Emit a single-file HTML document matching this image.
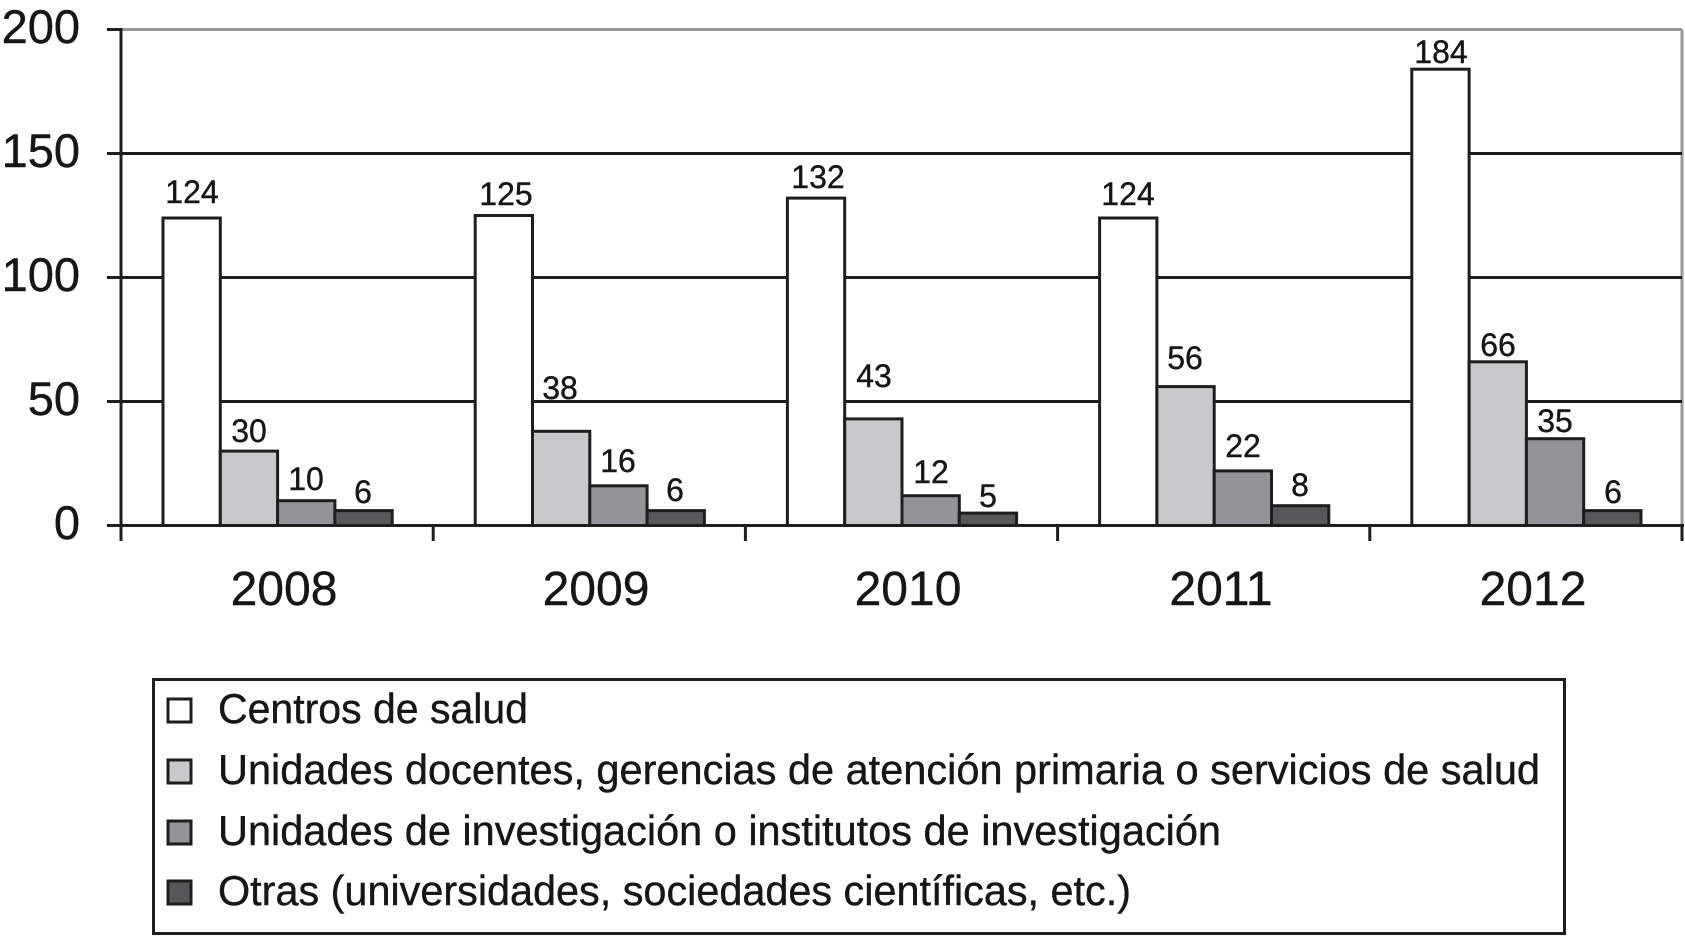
<!DOCTYPE html>
<html><head><meta charset="utf-8"><style>
html,body{margin:0;padding:0;background:#fff;}
svg{display:block;}
text{font-family:"Liberation Sans",Arial,sans-serif;fill:#161616;stroke:#161616;stroke-width:0.4px;}
</style></head><body>
<svg width="1685" height="936" viewBox="0 0 1685 936" xmlns="http://www.w3.org/2000/svg">
<rect x="0" y="0" width="1685" height="936" fill="#fff"/>
<!-- top & right border (gray) -->
<line x1="121" y1="29.5" x2="1682" y2="29.5" stroke="#999" stroke-width="3"/>
<line x1="1682" y1="29.5" x2="1682" y2="525.5" stroke="#999" stroke-width="3"/>
<!-- gridlines -->
<g stroke="#1e1e1e" stroke-width="3">
<line x1="107" y1="153.5" x2="1682" y2="153.5"/>
<line x1="107" y1="277.5" x2="1682" y2="277.5"/>
<line x1="107" y1="401.5" x2="1682" y2="401.5"/>
<line x1="107" y1="29.5" x2="121" y2="29.5"/>
</g>
<!-- bars -->
<g stroke="#1e1e1e" stroke-width="3">
<!-- 2008 -->
<rect x="163" y="218" width="57.3" height="307.5" fill="#fff"/>
<rect x="220.3" y="451.1" width="57.3" height="74.4" fill="#c8c9cb"/>
<rect x="277.6" y="500.7" width="57.3" height="24.8" fill="#939497"/>
<rect x="334.9" y="510.6" width="57.3" height="14.9" fill="#58585a"/>
<!-- 2009 -->
<rect x="475.2" y="215.5" width="57.3" height="310" fill="#fff"/>
<rect x="532.5" y="431.3" width="57.3" height="94.2" fill="#c8c9cb"/>
<rect x="589.8" y="485.8" width="57.3" height="39.7" fill="#939497"/>
<rect x="647.1" y="510.6" width="57.3" height="14.9" fill="#58585a"/>
<!-- 2010 -->
<rect x="787.4" y="198.1" width="57.3" height="327.4" fill="#fff"/>
<rect x="844.7" y="418.9" width="57.3" height="106.6" fill="#c8c9cb"/>
<rect x="902" y="495.7" width="57.3" height="29.8" fill="#939497"/>
<rect x="959.3" y="513.1" width="57.3" height="12.4" fill="#58585a"/>
<!-- 2011 -->
<rect x="1099.6" y="218" width="57.3" height="307.5" fill="#fff"/>
<rect x="1156.9" y="386.6" width="57.3" height="138.9" fill="#c8c9cb"/>
<rect x="1214.2" y="470.9" width="57.3" height="54.6" fill="#939497"/>
<rect x="1271.5" y="505.7" width="57.3" height="19.8" fill="#58585a"/>
<!-- 2012 -->
<rect x="1411.8" y="69.2" width="57.3" height="456.3" fill="#fff"/>
<rect x="1469.1" y="361.8" width="57.3" height="163.7" fill="#c8c9cb"/>
<rect x="1526.4" y="438.7" width="57.3" height="86.8" fill="#939497"/>
<rect x="1583.7" y="510.6" width="57.3" height="14.9" fill="#58585a"/>
</g>
<!-- axes -->
<g stroke="#1e1e1e" stroke-width="3">
<line x1="121" y1="28" x2="121" y2="541"/>
<line x1="107" y1="525.5" x2="1684" y2="525.5"/>
<line x1="433.2" y1="525.5" x2="433.2" y2="541"/>
<line x1="745.4" y1="525.5" x2="745.4" y2="541"/>
<line x1="1057.6" y1="525.5" x2="1057.6" y2="541"/>
<line x1="1369.8" y1="525.5" x2="1369.8" y2="541"/>
<line x1="1682" y1="525.5" x2="1682" y2="541"/>
</g>
<!-- y labels -->
<g font-size="47" text-anchor="end">
<text x="80" y="43">200</text>
<text x="80" y="167">150</text>
<text x="80" y="291">100</text>
<text x="80" y="415">50</text>
<text x="80" y="539">0</text>
</g>
<!-- x labels -->
<g font-size="48" text-anchor="middle">
<text x="284" y="605">2008</text>
<text x="596" y="605">2009</text>
<text x="908" y="605">2010</text>
<text x="1221" y="605">2011</text>
<text x="1533" y="605">2012</text>
</g>
<!-- data labels -->
<g font-size="32" text-anchor="middle">
<text x="192" y="203">124</text>
<text x="249" y="442">30</text>
<text x="306" y="490">10</text>
<text x="363" y="503">6</text>
<text x="506" y="205">125</text>
<text x="560" y="399">38</text>
<text x="618" y="472">16</text>
<text x="675" y="501">6</text>
<text x="818" y="188">132</text>
<text x="874" y="387">43</text>
<text x="931" y="483">12</text>
<text x="988" y="507">5</text>
<text x="1128" y="205">124</text>
<text x="1185" y="369">56</text>
<text x="1243" y="457">22</text>
<text x="1300" y="496">8</text>
<text x="1441" y="63">184</text>
<text x="1498" y="356">66</text>
<text x="1555" y="432">35</text>
<text x="1613" y="503">6</text>
</g>
<!-- legend -->
<rect x="153.5" y="679.5" width="1411" height="254" fill="#fff" stroke="#1e1e1e" stroke-width="3"/>
<g stroke="#1e1e1e" stroke-width="3">
<rect x="168" y="699" width="23" height="23" fill="#fff"/>
<rect x="168" y="760" width="23" height="23" fill="#c8c9cb"/>
<rect x="168" y="821" width="23" height="23" fill="#939497"/>
<rect x="168" y="881" width="23" height="23" fill="#58585a"/>
</g>
<g font-size="42">
<text x="218" y="723" textLength="310" lengthAdjust="spacingAndGlyphs">Centros de salud</text>
<text x="218" y="784" textLength="1322" lengthAdjust="spacingAndGlyphs">Unidades docentes, gerencias de atención primaria o servicios de salud</text>
<text x="218" y="845" textLength="1003" lengthAdjust="spacingAndGlyphs">Unidades de investigación o institutos de investigación</text>
<text x="218" y="905" textLength="913" lengthAdjust="spacingAndGlyphs">Otras (universidades, sociedades científicas, etc.)</text>
</g>
</svg>
</body></html>
